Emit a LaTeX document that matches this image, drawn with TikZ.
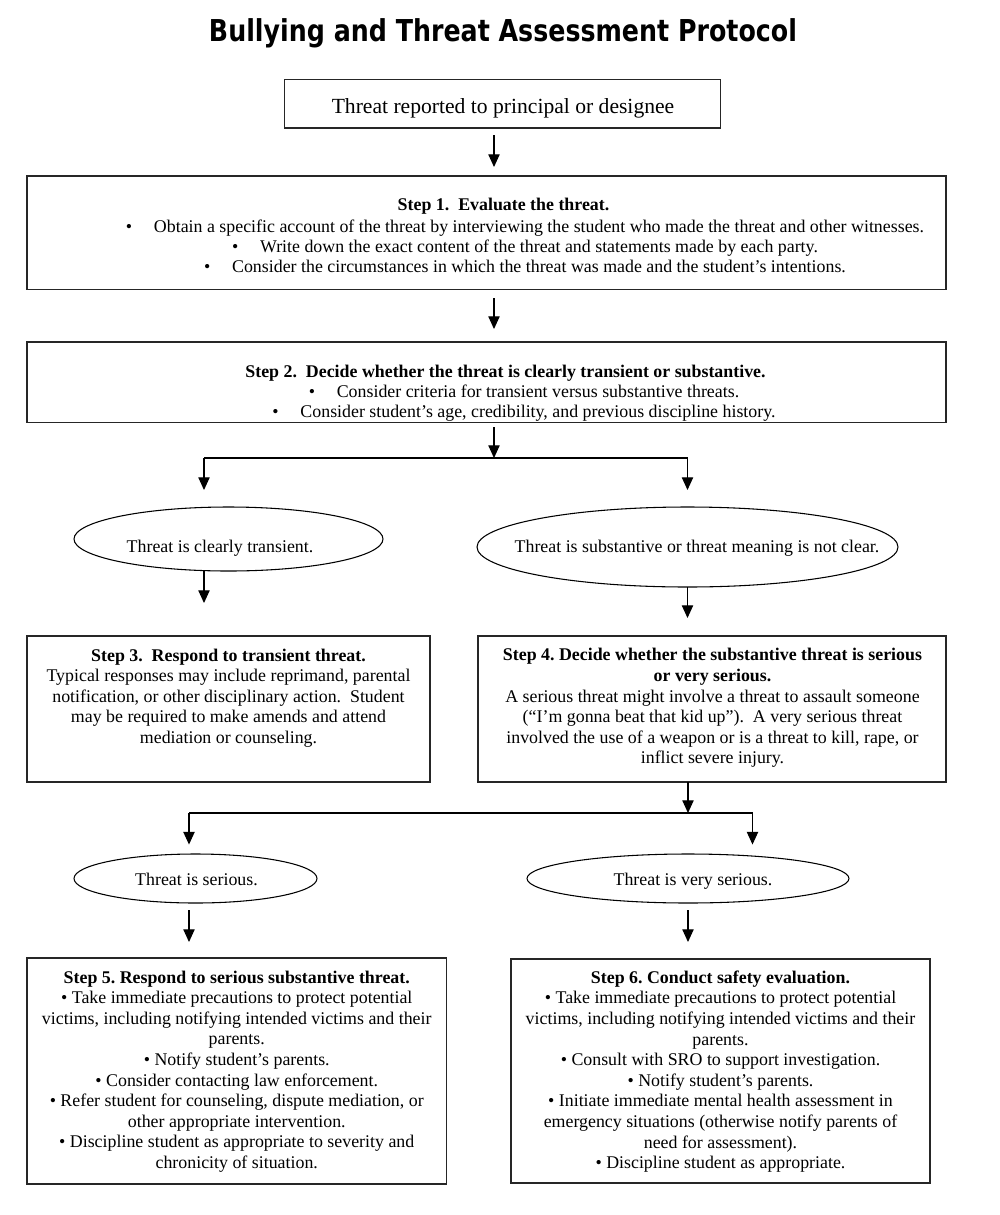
\documentclass[tikz,border=0pt]{standalone}
\usepackage{fontspec}
\setmainfont{Liberation Serif}
\newfontfamily\titlefont{DejaVu Sans}
\usetikzlibrary{arrows.meta,shapes.geometric,fit,calc}
\newcommand\bodysize{\fontsize{13.4pt}{15.45pt}\selectfont}
\frenchspacing
\begin{document}
\begin{tikzpicture}[x=0.75pt,y=-0.75pt,
  box/.style={draw=black!85, line width=1.1pt, inner sep=0pt, outer sep=0pt},
  oval/.style={draw, ellipse, line width=0.8pt, inner sep=0pt, outer sep=0pt},
  txt/.style={font=\bodysize, align=center, inner sep=0pt},
  link/.style={line width=0.8pt},
  conn/.style={line width=0.8pt, -{Triangle[length=9.5pt,width=8.5pt]}}]
\useasboundingbox (0,0) rectangle (1000,1215);

% title
\node[anchor=base, inner sep=0pt] (title) at (503,41.7)
  {\resizebox{441pt}{\height}{\titlefont\bfseries\fontsize{22.6pt}{26pt}\selectfont Bullying and Threat Assessment Protocol}};

% boxes
\node[box, fit={(284.5,79.3) (720.5,128)}] (tb) {};
\node[box, fit={(27,176) (946,289.5)}] (s1) {};
\node[box, fit={(27,342) (946,422.5)}] (s2) {};
\node[box, fit={(27,636) (430,782)}] (s3) {};
\node[box, fit={(478,636) (946,782)}] (s4) {};
\node[box, fit={(27,958) (446.5,1184)}] (s5) {};
\node[box, fit={(511,959) (930,1183)}] (s6) {};

% ellipses
\node[oval, minimum width=231.75pt, minimum height=48pt] (e1) at (228.5,539) {};
\node[oval, minimum width=315.75pt, minimum height=60pt] (e2) at (687.5,547) {};
\node[oval, minimum width=182.25pt, minimum height=36.75pt] (e3) at (195.5,878.5) {};
\node[oval, minimum width=241.5pt, minimum height=36.75pt] (e4) at (688,878.5) {};

% texts
\node[txt, anchor=base] (tbt) at (503,113.8) {\fontsize{16.2pt}{18pt}\selectfont Threat reported to principal or designee};

\node[txt, anchor=base] (s1h) at (503.5,210.5) {\bfseries Step 1.~ Evaluate the threat.};
\node[txt, anchor=base] (s1a) at (539,232.2) {Obtain a specific account of the threat by interviewing the student who made the threat and other witnesses.};
\node[txt, anchor=base west] (s1ab) at ([xshift=-21pt]s1a.base west) {•};
\node[txt, anchor=base] (s1b) at (539,252.5) {Write down the exact content of the threat and statements made by each party.};
\node[txt, anchor=base west] (s1bb) at ([xshift=-21pt]s1b.base west) {•};
\node[txt, anchor=base] (s1c) at (539,272.2) {Consider the circumstances in which the threat was made and the student’s intentions.};
\node[txt, anchor=base west] (s1cb) at ([xshift=-21pt]s1c.base west) {•};

\node[txt, anchor=base] (s2h) at (505.5,377.2) {\bfseries Step 2.~ Decide whether the threat is clearly transient or substantive.};
\node[txt, anchor=base] (s2a) at (538,397.2) {Consider criteria for transient versus substantive threats.};
\node[txt, anchor=base west] (s2ab) at ([xshift=-21pt]s2a.base west) {•};
\node[txt, anchor=base] (s2b) at (538,417.2) {Consider student’s age, credibility, and previous discipline history.};
\node[txt, anchor=base west] (s2bb) at ([xshift=-21pt]s2b.base west) {•};

\node[txt, anchor=base] (e1t) at (220,552.5) {Threat is clearly transient.};
\node[txt, anchor=base] (e2t) at (697,552.5) {Threat is substantive or threat meaning is not clear.};
\node[txt, anchor=base] (e3t) at (196.5,885) {Threat is serious.};
\node[txt, anchor=base] (e4t) at (693,885) {Threat is very serious.};

\node[txt] (s3t) at (228.5,698) {\textbf{Step 3.~ Respond to transient threat.}\\
Typical responses may include reprimand, parental\\
notification, or other disciplinary action.~ Student\\
may be required to make amends and attend\\
mediation or counseling.};

\node[txt] (s4t) at (712.5,708.2) {\textbf{Step 4. Decide whether the substantive threat is serious}\\
\textbf{or very serious.}\\
A serious threat might involve a threat to assault someone\\
(“I’m gonna beat that kid up”).~ A very serious threat\\
involved the use of a weapon or is a threat to kill, rape, or\\
inflict severe injury.};

\node[txt] (s5t) at (236.75,1071.5) {\textbf{Step 5. Respond to serious substantive threat.}\\
• Take immediate precautions to protect potential\\
victims, including notifying intended victims and their\\
parents.\\
• Notify student’s parents.\\
• Consider contacting law enforcement.\\
• Refer student for counseling, dispute mediation, or\\
other appropriate intervention.\\
• Discipline student as appropriate to severity and\\
chronicity of situation.};

\node[txt] (s6t) at (720.5,1071.5) {\textbf{Step 6. Conduct safety evaluation.}\\
• Take immediate precautions to protect potential\\
victims, including notifying intended victims and their\\
parents.\\
• Consult with SRO to support investigation.\\
• Notify student’s parents.\\
• Initiate immediate mental health assessment in\\
emergency situations (otherwise notify parents of\\
need for assessment).\\
• Discipline student as appropriate.};

% connector coordinates
\coordinate (cx) at (494,0);
\coordinate (jc) at (494,458);
\coordinate (jl) at (204,458);
\coordinate (jr) at (687.5,458);
\coordinate (jc2) at (688,813);
\coordinate (jl2) at (189,813);
\coordinate (jr2) at (752.5,813);

% connectors
\draw[conn, shorten <=5.25pt, shorten >=6.75pt] (tb.south -| cx) -- (s1.north -| cx);
\draw[conn, shorten <=6.4pt, shorten >=9.75pt] (s1.south -| cx) -- (s2.north -| cx);
\draw[conn, shorten <=3.4pt] (s2.south -| cx) -- (jc);
\draw[link] (jl) -- (jr);
\draw[conn, shorten >=12.75pt] (jl) -- (e1.north -| jl);
\draw[conn, shorten >=12.75pt] (jr) -- (e2.north -| jr);
\draw[conn, shorten >=24.75pt] (e1.south -| jl) -- (s3.north -| jl);
\draw[conn, shorten >=13.5pt] (e2.south -| jr) -- (s4.north -| jr);
\draw[conn] (s4.south -| jc2) -- (jc2);
\draw[link] (jl2) -- (jr2);
\draw[conn, shorten >=7.1pt] (jl2) -- (e3.north -| jl2);
\draw[conn, shorten >=7.1pt] (jr2) -- (e4.north -| jr2);
\draw[conn, shorten <=5.25pt, shorten >=12pt] (e3.south -| jl2) -- (s5.north -| jl2);
\draw[conn, shorten <=5.25pt, shorten >=12.75pt] (e4.south -| jc2) -- (s6.north -| jc2);
\end{tikzpicture}
\end{document}
